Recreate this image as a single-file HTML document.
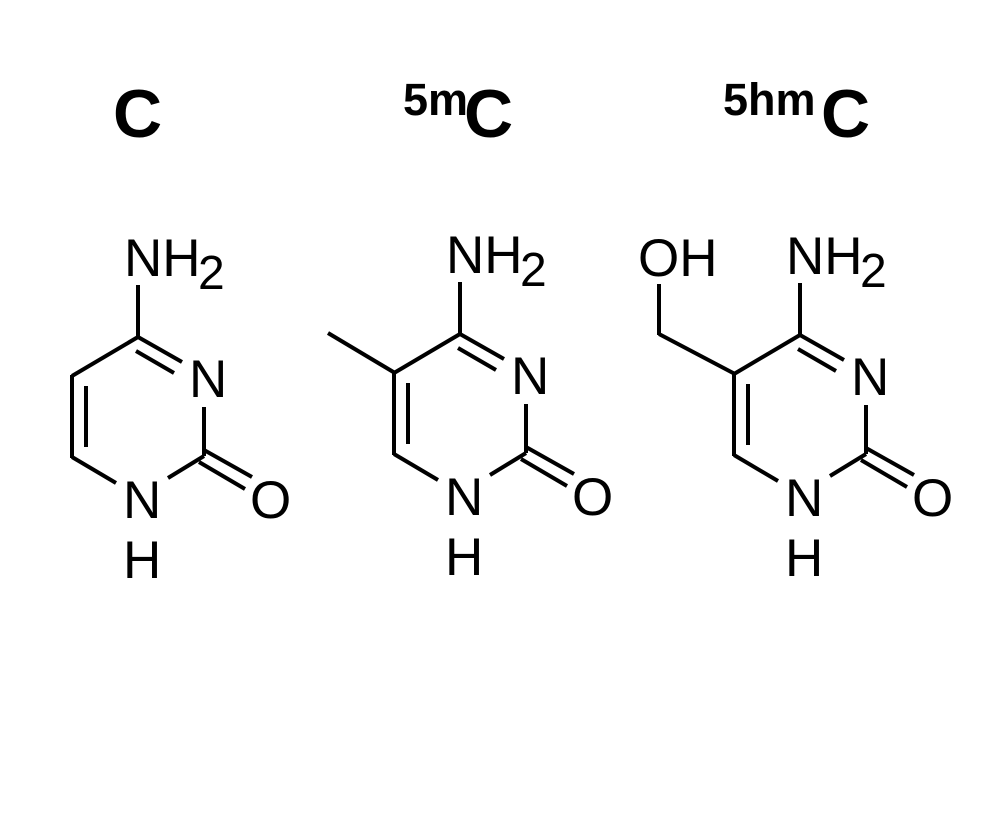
<!DOCTYPE html>
<html><head><meta charset="utf-8"><style>
html,body{margin:0;padding:0;background:#fff;}
svg{display:block;}
text{font-family:"Liberation Sans",Arial,sans-serif;fill:#000;}
</style></head><body>
<svg width="989" height="836" viewBox="0 0 989 836" xmlns="http://www.w3.org/2000/svg">
<defs>
<g id="ring" stroke="#000" stroke-width="4" fill="none" stroke-linecap="butt">
  <line x1="138" y1="285" x2="138" y2="337"/>
  <line x1="138" y1="337" x2="72" y2="376"/>
  <line x1="138" y1="337" x2="182" y2="362"/>
  <line x1="136" y1="351" x2="174" y2="373"/>
  <line x1="72" y1="375" x2="72" y2="458"/>
  <line x1="86" y1="386" x2="86" y2="447"/>
  <line x1="72" y1="457" x2="116" y2="483"/>
  <line x1="204" y1="407" x2="204" y2="456"/>
  <line x1="204" y1="456" x2="168" y2="478"/>
  <line x1="204" y1="450" x2="252" y2="477"/>
  <line x1="199" y1="462" x2="245" y2="489"/>
</g>
<g id="labels" font-size="53">
  <text x="124" y="276">NH</text>
  <text x="198" y="289" font-size="48">2</text>
  <text x="189" y="397">N</text>
  <text x="123" y="518">N</text>
  <text x="123" y="578">H</text>
  <text x="250" y="518">O</text>
</g>
</defs>

<text x="113" y="137" font-size="68" font-weight="bold">C</text>
<text x="403" y="115" font-size="45" font-weight="bold">5m</text>
<text x="464" y="137" font-size="68" font-weight="bold">C</text>
<text x="723" y="115" font-size="45" font-weight="bold">5hm</text>
<text x="821" y="137" font-size="68" font-weight="bold">C</text>

<use href="#ring"/>
<use href="#labels"/>

<g transform="translate(322,-3)">
  <use href="#ring"/>
  <use href="#labels"/>
  <line x1="73" y1="376" x2="6" y2="336" stroke="#000" stroke-width="4"/>
</g>

<g transform="translate(662,-2)">
  <use href="#ring"/>
  <use href="#labels"/>
  <line x1="73" y1="376" x2="-3" y2="336" stroke="#000" stroke-width="4"/>
  <line x1="-3" y1="337" x2="-3" y2="286" stroke="#000" stroke-width="4"/>
</g>
<text x="638" y="276" font-size="53">OH</text>
</svg>
</body></html>
